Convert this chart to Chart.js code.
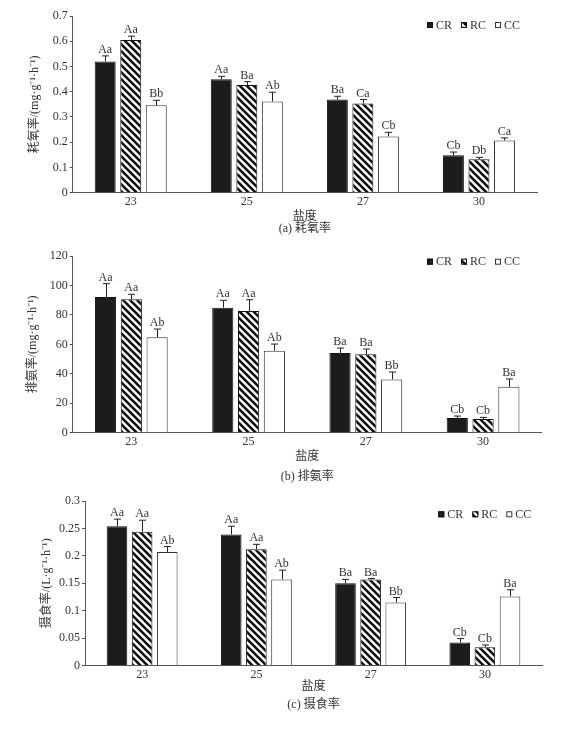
<!DOCTYPE html>
<html><head><meta charset="utf-8">
<script src="https://cdn.jsdelivr.net/npm/chart.js@4.4.1/dist/chart.umd.min.js"></script>
<style>
html,body{margin:0;padding:0;background:#fff;}
.panel{position:absolute;left:0;width:582px;}
</style></head><body>
<div class="panel" style="top:0;height:240px"><canvas id="ca"></canvas></div>
<div class="panel" style="top:240px;height:250px"><canvas id="cb"></canvas></div>
<div class="panel" style="top:490px;height:252px"><canvas id="cc"></canvas></div>
<script>
// ---- data ----
const categories = ['23', '25', '27', '30'];
const seriesNames = ['CR', 'RC', 'CC'];

// (a) oxygen consumption
const oxyCR = [0.52, 0.449, 0.369, 0.148];
const oxyRC = [0.605, 0.427, 0.353, 0.133];
const oxyCC = [0.346, 0.361, 0.223, 0.207];
const oxyCRErr = [0.022, 0.012, 0.013, 0.013];
const oxyRCErr = [0.015, 0.013, 0.016, 0.007];
const oxyCCErr = [0.02, 0.037, 0.016, 0.01];
const oxyCRSig = ['Aa', 'Aa', 'Ba', 'Cb'];
const oxyRCSig = ['Aa', 'Ba', 'Ca', 'Db'];
const oxyCCSig = ['Bb', 'Ab', 'Cb', 'Ca'];
const oxyTicks = ['0', '0.1', '0.2', '0.3', '0.4', '0.5', '0.6', '0.7'];

// (b) ammonia excretion
const ammCR = [92.1, 84.9, 54.1, 10.0];
const ammRC = [90.6, 82.6, 53.2, 9.3];
const ammCC = [64.8, 55.7, 36.2, 31.2];
const ammCRErr = [9.1, 5.0, 3.4, 1.3];
const ammRCErr = [3.4, 7.7, 3.6, 1.1];
const ammCCErr = [5.6, 4.5, 5.0, 5.3];
const ammCRSig = ['Aa', 'Aa', 'Ba', 'Cb'];
const ammRCSig = ['Aa', 'Aa', 'Ba', 'Cb'];
const ammCCSig = ['Ab', 'Ab', 'Bb', 'Ba'];
const ammTicks = ['0', '20', '40', '60', '80', '100', '120'];

// (c) feeding rate
const feedCR = [0.254, 0.239, 0.150, 0.042];
const feedRC = [0.244, 0.212, 0.157, 0.0335];
const feedCC = [0.207, 0.157, 0.115, 0.126];
const feedCRErr = [0.013, 0.015, 0.007, 0.007];
const feedRCErr = [0.021, 0.009, 0.0015, 0.004];
const feedCCErr = [0.01, 0.017, 0.009, 0.012];
const feedCRSig = ['Aa', 'Aa', 'Ba', 'Cb'];
const feedRCSig = ['Aa', 'Aa', 'Ba', 'Cb'];
const feedCCSig = ['Ab', 'Ab', 'Bb', 'Ba'];
const feedTicks = ['0', '0.05', '0.1', '0.15', '0.2', '0.25', '0.3'];

// ---- styling ----
const FONT = "'Liberation Serif', 'Noto Sans CJK SC', serif";
const TEXT = '#333';
const AXIS = '#555';

function hatchPattern() {
  const s = 7;
  const c = document.createElement('canvas');
  c.width = s; c.height = s;
  const g = c.getContext('2d');
  g.fillStyle = '#fff';
  g.fillRect(0, 0, s, s);
  g.strokeStyle = '#111';
  g.lineWidth = 2.6;
  g.beginPath();
  for (const o of [-s, 0, s]) { g.moveTo(o - 1, -1); g.lineTo(o + s + 1, s + 1); }
  g.stroke();
  return g.createPattern(c, 'repeat');
}

const errPlugin = {
  id: 'errbars',
  afterDatasetsDraw(chart) {
    const ctx = chart.ctx;
    const ys = chart.scales.y;
    chart.data.datasets.forEach((ds, di) => {
      const meta = chart.getDatasetMeta(di);
      meta.data.forEach((bar, i) => {
        const top = ys.getPixelForValue(ds.data[i] + ds.errors[i]);
        const x = Math.round(bar.x) + 0.5;
        ctx.save();
        ctx.strokeStyle = '#222';
        ctx.lineWidth = 1;
        ctx.beginPath();
        ctx.moveTo(x, bar.y);
        ctx.lineTo(x, top);
        ctx.moveTo(x - 3.5, top);
        ctx.lineTo(x + 3.5, top);
        ctx.stroke();
        ctx.fillStyle = TEXT;
        ctx.font = '12px ' + FONT;
        ctx.textAlign = 'center';
        ctx.textBaseline = 'alphabetic';
        ctx.fillText(ds.sig[i], bar.x, top - 3);
        ctx.restore();
      });
    });
  }
};

function legendPlugin(pos) {
  return {
    id: 'customLegend',
    afterDraw(chart) {
      const ctx = chart.ctx;
      ctx.save();
      ctx.font = '12px ' + FONT;
      ctx.textBaseline = 'middle';
      ctx.textAlign = 'left';
      let x = pos.x;
      const y = pos.y;
      chart.data.datasets.forEach(ds => {
        const b = 6;
        ctx.fillStyle = ds.backgroundColor;
        ctx.fillRect(x, y - b / 2, b, b);
        ctx.strokeStyle = ds.borderColor;
        ctx.lineWidth = 1;
        ctx.strokeRect(x + 0.5, y - b / 2 + 0.5, b - 1, b - 1);
        ctx.fillStyle = TEXT;
        ctx.fillText(ds.label, x + b + 3, y + 0.5);
        x += b + 3 + ctx.measureText(ds.label).width + 9;
      });
      ctx.restore();
    }
  };
}

function makeChart(id, cfg) {
  const pat = hatchPattern();
  const fills = ['#1c1c1c', pat, '#ffffff'];
  const borders = ['#111', '#111', '#333'];
  return new Chart(document.getElementById(id), {
    type: 'bar',
    data: {
      labels: categories,
      datasets: seriesNames.map((name, k) => ({
        label: name,
        data: cfg.values[k],
        errors: cfg.errors[k],
        sig: cfg.sig[k],
        backgroundColor: fills[k],
        borderColor: borders[k],
        borderWidth: 1
      }))
    },
    options: {
      responsive: true,
      maintainAspectRatio: false,
      animation: false,
      events: [],
      layout: { padding: { left: cfg.padL, right: cfg.padR, top: cfg.padT, bottom: 0 } },
      plugins: { legend: { display: false }, tooltip: { enabled: false } },
      datasets: { bar: { categoryPercentage: 0.66, barPercentage: 0.82 } },
      scales: {
        x: {
          grid: { display: false, drawTicks: false, tickLength: 0 },
          border: { display: true, color: AXIS, width: 1 },
          ticks: { color: TEXT, font: { family: FONT, size: 12 }, padding: 2 },
          title: {
            display: true, text: cfg.xTitle, color: TEXT,
            font: { family: FONT, size: 12, lineHeight: cfg.titleLH / 12 },
            padding: { top: 0, bottom: cfg.titlePB }
          },
          afterFit(s) { s.height = cfg.xH; }
        },
        y: {
          min: 0, max: Number(cfg.ticks[cfg.ticks.length - 1]),
          ticks: {
            stepSize: Number(cfg.ticks[1]),
            color: TEXT, font: { family: FONT, size: 12 }, padding: 2,
            callback: (v) => {
              const k = cfg.ticks.findIndex(t => Math.abs(Number(t) - v) < 1e-9);
              return k >= 0 ? cfg.ticks[k] : '';
            }
          },
          grid: { display: true, drawOnChartArea: false, drawTicks: true, tickLength: 3, color: AXIS },
          border: { display: true, color: AXIS, width: 1 },
          title: { display: true, text: cfg.yTitle, color: TEXT, font: { family: FONT, size: 12 }, padding: 0 },
          afterFit(s) { s.width = cfg.yW; }
        }
      }
    },
    plugins: [errPlugin, legendPlugin(cfg.legend)]
  });
}

makeChart('ca', {
  values: [oxyCR, oxyRC, oxyCC], errors: [oxyCRErr, oxyRCErr, oxyCCErr], sig: [oxyCRSig, oxyRCSig, oxyCCSig],
  ticks: oxyTicks, yTitle: '耗氧率/(mg·g⁻¹·h⁻¹)', xTitle: ['盐度', '(a) 耗氧率'],
  padL: 27.8, yW: 44.9, padR: 45, padT: 16, xH: 47.3, titleLH: 11.5, titlePB: 5.75,
  legend: { x: 427, y: 25 }
});
makeChart('cb', {
  values: [ammCR, ammRC, ammCC], errors: [ammCRErr, ammRCErr, ammCCErr], sig: [ammCRSig, ammRCSig, ammCCSig],
  ticks: ammTicks, yTitle: '排氨率/(mg·g⁻¹·h⁻¹)', xTitle: ['盐度', '(b) 排氨率'],
  padL: 25.8, yW: 46.9, padR: 40.3, padT: 16, xH: 57.3, titleLH: 20, titlePB: 3,
  legend: { x: 427, y: 21.7 }
});
makeChart('cc', {
  values: [feedCR, feedRC, feedCC], errors: [feedCRErr, feedRCErr, feedCCErr], sig: [feedCRSig, feedRCSig, feedCCSig],
  ticks: feedTicks, yTitle: '摄食率/(L·g⁻¹·h⁻¹)', xTitle: ['盐度', '(c) 摄食率'],
  padL: 39.5, yW: 45.5, padR: 40, padT: 11, xH: 76.5, titleLH: 18, titlePB: 28,
  legend: { x: 438.3, y: 24.3 }
});
</script>
</body></html>
